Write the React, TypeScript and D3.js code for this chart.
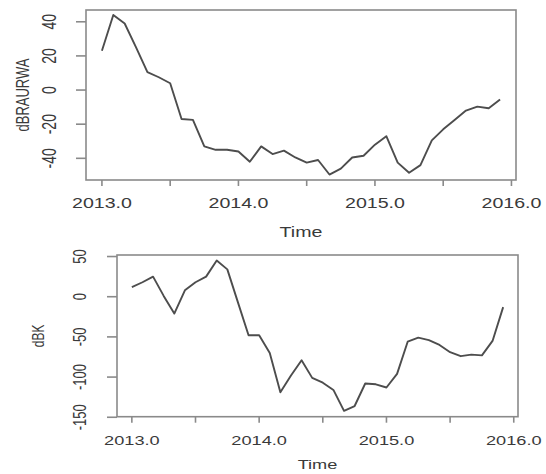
import React from "react";
import * as d3 from "d3";

// Monthly series, starting January 2013
const startYear = 2013;
const dbrauRwa = [
  23, 44, 39, 25, 10.5, 7.5, 4, -17, -17.5, -33, -35, -35,
  -36, -42, -33, -37.5, -35.5, -39.5, -42.5, -41, -49.5, -46, -39.5, -38.5,
  -32, -27, -42.5, -48.5, -44, -29.5, -23, -17.5, -12, -9.7, -10.7, -5.5,
];
const dbk = [
  12, 18, 25, 1, -21, 8, 18, 25, 45, 34, -7, -48,
  -48, -70, -119, -98, -79, -101, -107, -116, -142, -136, -108, -109,
  -113, -96, -56, -51, -54, -60, -69, -74, -72, -73, -55, -13,
];

const xTicks = [2013, 2013.5, 2014, 2014.5, 2015, 2015.5, 2016];
const xTickLabels = ["2013.0", "", "2014.0", "", "2015.0", "", "2016.0"];
const topYTicks = [-40, -20, 0, 20, 40];
const bottomYTicks = [-150, -100, -50, 0, 50];

const FONT = "'Liberation Sans', Arial, Helvetica, sans-serif";
const STRETCH = 1.4;
const LINE_COLOR = "#4d4d4d";
const AXIS_COLOR = "#8a8a8a";
const TEXT_COLOR = "#3a3a3a";

type PanelProps = {
  values: number[];
  left: number;
  right: number;
  top: number;
  bottom: number;
  yDomain: [number, number];
  yTicks: number[];
  yLabel: string;
  tickFont: number;
  titleFont: number;
  yTickLen: number;
  yTickLabelX: number;
  yLabelX: number;
  xTickLabelY: number;
  xTitleY: number;
};

function Panel(p: PanelProps) {
  const n = p.values.length;
  const first = startYear;
  const last = startYear + (n - 1) / 12;
  const pad = (last - first) * 0.04;
  const x = d3.scaleLinear().domain([first - pad, last + pad]).range([p.left, p.right]);
  const y = d3.scaleLinear().domain(p.yDomain).range([p.bottom, p.top]);
  const line = d3
    .line<number>()
    .x((_, i) => x(startYear + i / 12))
    .y((d) => y(d));
  const cx = (p.left + p.right) / 2;
  const cy = (p.top + p.bottom) / 2;
  return (
    <g>
      <rect
        x={p.left}
        y={p.top}
        width={p.right - p.left}
        height={p.bottom - p.top}
        fill="none"
        stroke={AXIS_COLOR}
        strokeWidth={1.6}
      />
      {xTicks.map((t, i) => (
        <g key={"xt" + i}>
          <line x1={x(t)} x2={x(t)} y1={p.bottom} y2={p.bottom + 6} stroke={AXIS_COLOR} strokeWidth={1.6} />
          {xTickLabels[i] && (
            <text
              transform={`translate(${x(t)},${p.xTickLabelY}) scale(${STRETCH},1)`}
              textAnchor="middle"
              fontFamily={FONT}
              fontSize={p.tickFont}
              fill={TEXT_COLOR}
            >
              {xTickLabels[i]}
            </text>
          )}
        </g>
      ))}
      {p.yTicks.map((t) => (
        <g key={"yt" + t}>
          <line x1={p.left - p.yTickLen} x2={p.left} y1={y(t)} y2={y(t)} stroke={AXIS_COLOR} strokeWidth={1.6} />
          <text
            transform={`translate(${p.yTickLabelX},${y(t)}) scale(${STRETCH},1) rotate(-90)`}
            textAnchor="middle"
            fontFamily={FONT}
            fontSize={p.tickFont}
            fill={TEXT_COLOR}
          >
            {t}
          </text>
        </g>
      ))}
      <text
        transform={`translate(${cx},${p.xTitleY}) scale(${STRETCH},1)`}
        textAnchor="middle"
        fontFamily={FONT}
        fontSize={p.titleFont}
        fill={TEXT_COLOR}
      >
        Time
      </text>
      <text
        transform={`translate(${p.yLabelX},${cy}) scale(${STRETCH},1) rotate(-90)`}
        textAnchor="middle"
        fontFamily={FONT}
        fontSize={p.titleFont - 1}
        fill={TEXT_COLOR}
      >
        {p.yLabel}
      </text>
      <path d={line(p.values) || ""} fill="none" stroke={LINE_COLOR} strokeWidth={1.9} strokeLinejoin="round" />
    </g>
  );
}

export default function App() {
  return (
    <svg
      width={546}
      height={474}
      viewBox="0 0 546 474"
      style={{ position: "absolute", left: 0, top: 0, background: "#fff" }}
    >
      <rect x={0} y={0} width={546} height={474} fill="#fff" />
      <Panel
        values={dbrauRwa}
        left={86}
        right={516}
        top={10}
        bottom={180}
        yDomain={[-52.7, 46.9]}
        yTicks={topYTicks}
        yLabel="dBRAURWA"
        tickFont={14}
        titleFont={14}
        yTickLen={10}
        yTickLabelX={56}
        yLabelX={29}
        xTickLabelY={208}
        xTitleY={237}
      />
      <Panel
        values={dbk}
        left={117}
        right={518}
        top={255}
        bottom={416.7}
        yDomain={[-149.3, 51.9]}
        yTicks={bottomYTicks}
        yLabel="dBK"
        tickFont={13}
        titleFont={13}
        yTickLen={10}
        yTickLabelX={86}
        yLabelX={44}
        xTickLabelY={445}
        xTitleY={469}
      />
    </svg>
  );
}
